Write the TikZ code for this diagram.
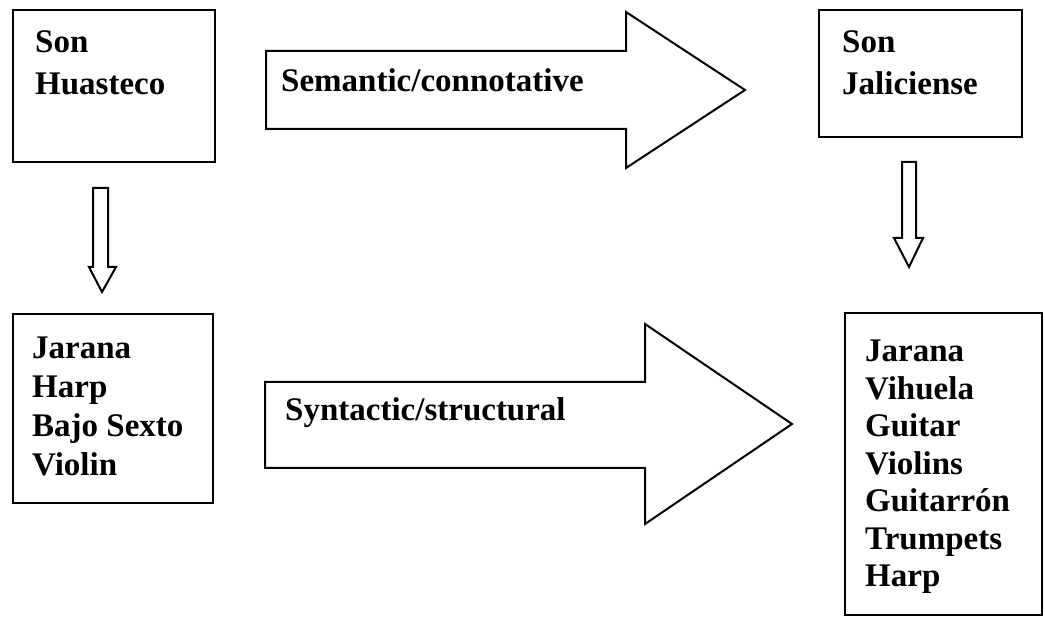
\documentclass[tikz,border=0pt]{standalone}
\usepackage{fontspec}
\setmainfont{Liberation Serif}
\begin{document}
\begin{tikzpicture}[x=1pt,y=-1pt,
  box/.style={draw=black,line width=2.6pt,fill=white},
  blockarrow/.style={draw=black,line width=2pt,fill=white,line join=miter},
  label/.style={anchor=north west,inner sep=0pt,align=left,font=\bfseries\fontsize{33}{42}\selectfont},
  list/.style={anchor=north west,inner sep=0pt,align=left,font=\bfseries\fontsize{33}{39}\selectfont},
  listb/.style={anchor=north west,inner sep=0pt,align=left,font=\bfseries\fontsize{33}{37.5}\selectfont}]
\useasboundingbox (0,0) rectangle (1045,617);
\fill[white] (0,0) rectangle (1045,617);
% boxes
\draw[box] (13,10) rectangle (215,162);
\draw[box] (819,10) rectangle (1022,137);
\draw[box] (13,314) rectangle (213,503);
\draw[box] (845,313) rectangle (1042,615);
% texts
\node[label] (huasteco) at (35,30) {Son\\Huasteco};
\node[label] (jaliciense) at (842,30) {Son\\Jaliciense};
\node[list] (leftlist) at (32,337) {Jarana\\Harp\\Bajo Sexto\\Violin};
\node[listb] (rightlist) at (865,340) {Jarana\\Vihuela\\Guitar\\Violins\\Guitarrón\\Trumpets\\Harp};
% big arrows
\draw[blockarrow] (266,51) -- (626,51) -- (626,12) -- (745,90) -- (626,168) -- (626,129) -- (266,129) -- cycle;
\node[label] (semantic) at (281,68) {Semantic/connotative};
\draw[blockarrow] (265,382) -- (645,382) -- (645,324) -- (792,424) -- (645,524) -- (645,468) -- (265,468) -- cycle;
\node[label] (syntactic) at (285,397) {Syntactic/structural};
% small arrows
\draw[blockarrow] (93,188) -- (108,188) -- (108,267) -- (116,267) -- (102,292) -- (89,267) -- (93,267) -- cycle;
\draw[blockarrow] (902,162) -- (916,162) -- (916,238) -- (923,238) -- (909,267) -- (894,238) -- (902,238) -- cycle;
\end{tikzpicture}
\end{document}
